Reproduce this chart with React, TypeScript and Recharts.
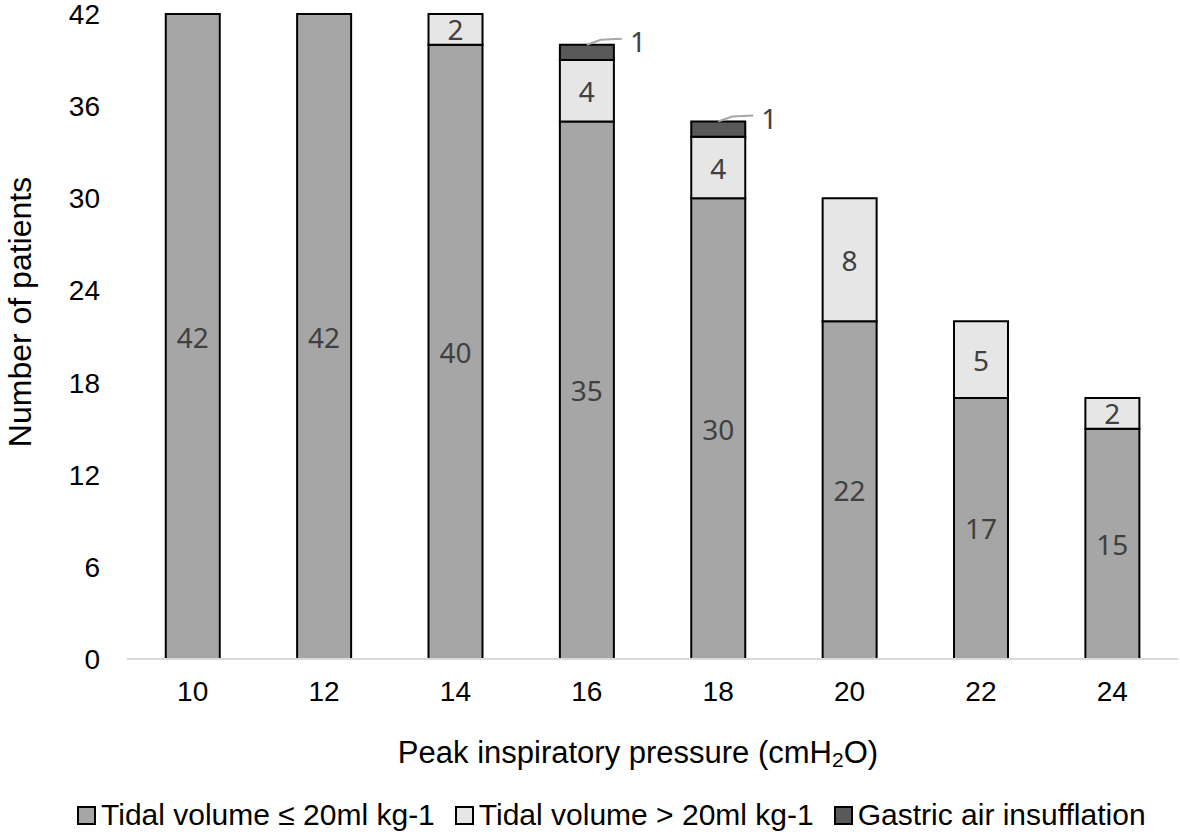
import { BarChart, Bar, XAxis, YAxis, Legend, LabelList, Label } from 'recharts'

const PRESSURES = ['10', '12', '14', '16', '18', '20', '22', '24']
const TV_LOW = [42, 42, 40, 35, 30, 22, 17, 15]
const TV_HIGH = [0, 0, 2, 4, 4, 8, 5, 2]
const GASTRIC = [0, 0, 0, 1, 1, 0, 0, 0]
const Y_TICKS = [0, 6, 12, 18, 24, 30, 36, 42]

const SERIES = [
  { key: 'low', label: 'Tidal volume ≤ 20ml kg-1', color: '#a6a6a6' },
  { key: 'high', label: 'Tidal volume > 20ml kg-1', color: '#e6e6e6' },
  { key: 'gastric', label: 'Gastric air insufflation', color: '#595959' },
]

const data = PRESSURES.map((p, i) => ({
  pressure: p,
  low: TV_LOW[i],
  high: TV_HIGH[i] || null,
  gastric: GASTRIC[i] || null,
}))

const FONT = '"Liberation Sans", Arial, sans-serif'
const LABEL_FONT = '"Noto Sans", sans-serif'

const InnerLabel = (props: any) => {
  const { x, y, width, height, value } = props
  if (!value) return null
  return (
    <text
      x={x + width / 2}
      y={y + height / 2}
      textAnchor="middle"
      dominantBaseline="central"
      fill="#404040"
      fontSize={28}
      fontFamily={LABEL_FONT}
    >
      {value}
    </text>
  )
}

const CalloutLabel = (props: any) => {
  const { x, y, width, value } = props
  if (!value) return null
  const cx = x + width / 2
  return (
    <g>
      <polyline
        points={`${cx},${y} ${cx + 14},${y - 5} ${cx + 35},${y - 6}`}
        fill="none"
        stroke="#a6a6a6"
        strokeWidth={2}
      />
      <text
        x={cx + 43}
        y={y - 4}
        dominantBaseline="central"
        fill="#404040"
        fontSize={28}
        fontFamily={LABEL_FONT}
      >
        {value}
      </text>
    </g>
  )
}

const LegendContent = () => (
  <div
    style={{
      display: 'flex',
      justifyContent: 'flex-start',
      paddingLeft: 77,
      gap: 20,
      fontFamily: FONT,
      fontSize: 30,
      color: '#000',
      whiteSpace: 'nowrap',
    }}
  >
    {SERIES.map((s) => (
      <div key={s.key} style={{ display: 'flex', alignItems: 'center' }}>
        <span
          style={{
            display: 'inline-block',
            width: 15,
            height: 15,
            background: s.color,
            border: '2px solid #000',
            marginRight: 5,
          }}
        />
        {s.label}
      </div>
    ))}
  </div>
)

export default function App() {
  return (
    <div style={{ position: 'absolute', left: 0, top: 0, background: '#fff' }}>
      <BarChart
        width={1180}
        height={835}
        data={data}
        margin={{ top: 14, right: 2, bottom: 0, left: 0 }}
        barCategoryGap="29.5%"
      >
        <XAxis
          dataKey="pressure"
          axisLine={{ stroke: '#d9d9d9', strokeWidth: 2 }}
          tickLine={false}
          tickSize={0}
          tickMargin={22}
          height={142}
          tick={{ fill: '#000', fontSize: 28, fontFamily: FONT }}
        >
          <Label
            content={() => (
              <text
                x={638}
                y={752}
                textAnchor="middle"
                dominantBaseline="central"
                fontSize={31}
                fontFamily={FONT}
                fill="#000"
              >
                Peak inspiratory pressure (cmH
                <tspan fontSize={21} dy={7}>2</tspan>
                <tspan dy={-7}>O)</tspan>
              </text>
            )}
          />
        </XAxis>
        <YAxis
          domain={[0, 42]}
          ticks={Y_TICKS}
          interval={0}
          axisLine={false}
          tickLine={false}
          tickSize={0}
          tickMargin={27}
          width={127}
          tick={{ fill: '#000', fontSize: 28, fontFamily: FONT }}
        >
          <Label
            content={() => (
              <text
                x={20}
                y={312}
                transform="rotate(-90 20 312)"
                textAnchor="middle"
                dominantBaseline="central"
                fontSize={32}
                fontFamily={FONT}
                fill="#000"
              >
                Number of patients
              </text>
            )}
          />
        </YAxis>
        <Legend
          verticalAlign="bottom"
          content={<LegendContent />}
          wrapperStyle={{ bottom: 3 }}
        />
        <Bar dataKey="low" stackId="a" fill={SERIES[0].color} stroke="#000" strokeWidth={2} isAnimationActive={false}>
          <LabelList dataKey="low" content={<InnerLabel />} />
        </Bar>
        <Bar dataKey="high" stackId="a" fill={SERIES[1].color} stroke="#000" strokeWidth={2} isAnimationActive={false}>
          <LabelList dataKey="high" content={<InnerLabel />} />
        </Bar>
        <Bar dataKey="gastric" stackId="a" fill={SERIES[2].color} stroke="#000" strokeWidth={2} isAnimationActive={false}>
          <LabelList dataKey="gastric" content={<CalloutLabel />} />
        </Bar>
      </BarChart>
    </div>
  )
}
